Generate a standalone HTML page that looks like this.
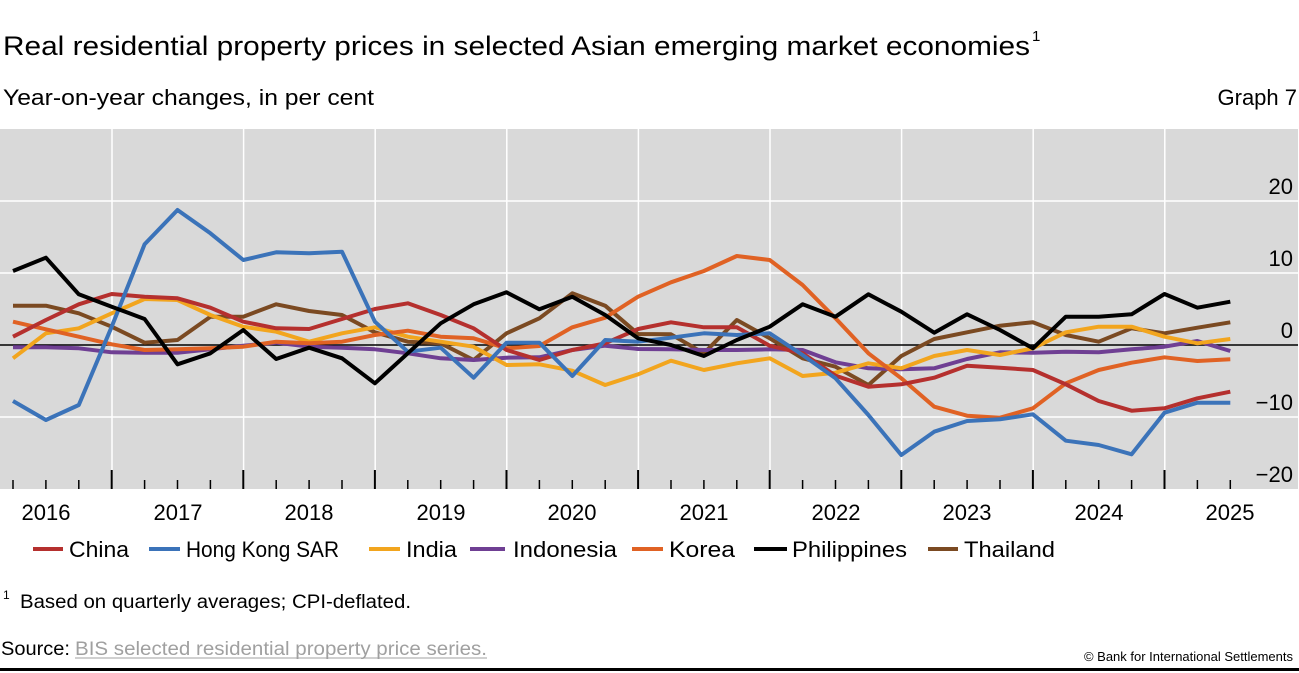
<!DOCTYPE html>
<html><head><meta charset="utf-8"><style>
html,body{margin:0;padding:0;background:#fff;}
svg{display:block;font-family:"Liberation Sans",sans-serif;}
</style></head><body>
<svg id="s" width="1299" height="673" xmlns="http://www.w3.org/2000/svg">
<text x="3" y="55" font-size="27" textLength="1027" lengthAdjust="spacingAndGlyphs">Real residential property prices in selected Asian emerging market economies</text>
<text x="1032" y="41" font-size="15">1</text>
<text x="3" y="105" font-size="22" textLength="371" lengthAdjust="spacingAndGlyphs">Year-on-year changes, in per cent</text>
<text x="1297" y="105" font-size="22" text-anchor="end">Graph 7</text>
<rect x="0" y="129" width="1298" height="360" fill="#d9d9d9"/>
<g stroke="#fff" stroke-width="1.5">
<line x1="0" y1="201" x2="1298" y2="201"/><line x1="0" y1="273" x2="1298" y2="273"/><line x1="0" y1="417" x2="1298" y2="417"/>
<line x1="112" y1="129" x2="112" y2="489"/><line x1="243.6" y1="129" x2="243.6" y2="489"/><line x1="375.2" y1="129" x2="375.2" y2="489"/><line x1="506.8" y1="129" x2="506.8" y2="489"/><line x1="638.4" y1="129" x2="638.4" y2="489"/><line x1="770" y1="129" x2="770" y2="489"/><line x1="901.6" y1="129" x2="901.6" y2="489"/><line x1="1033.2" y1="129" x2="1033.2" y2="489"/><line x1="1164.8" y1="129" x2="1164.8" y2="489"/>
</g>
<g id="ticks" stroke="#000"></g>
<line x1="0" y1="345" x2="1298" y2="345" stroke="#000" stroke-width="1.5"/>
<g id="lines" fill="none" stroke-width="4" stroke-linejoin="round"></g>
<g font-size="22" text-anchor="end">
<text x="1293" y="194">20</text><text x="1293" y="266">10</text><text x="1293" y="338">0</text><text x="1293" y="410">−10</text><text x="1293" y="482">−20</text>
</g>
<g font-size="22" text-anchor="middle">
<text x="46" y="520">2016</text><text x="178" y="520">2017</text><text x="309" y="520">2018</text><text x="441" y="520">2019</text><text x="572" y="520">2020</text><text x="704" y="520">2021</text><text x="836" y="520">2022</text><text x="967" y="520">2023</text><text x="1099" y="520">2024</text><text x="1230" y="520">2025</text>
</g>
<g stroke-width="4">
<line x1="33" y1="549" x2="63" y2="549" stroke="#b5302e"/>
<line x1="149" y1="549" x2="180" y2="549" stroke="#3b73b9"/>
<line x1="369" y1="549" x2="400" y2="549" stroke="#f2a51e"/>
<line x1="470" y1="549" x2="505" y2="549" stroke="#6f3f93"/>
<line x1="632" y1="549" x2="663" y2="549" stroke="#e06224"/>
<line x1="754" y1="549" x2="787" y2="549" stroke="#000"/>
<line x1="928" y1="549" x2="958" y2="549" stroke="#7b4a22"/>
</g>
<g font-size="22">
<text x="69" y="557" textLength="60" lengthAdjust="spacingAndGlyphs">China</text>
<text x="186" y="557" textLength="153" lengthAdjust="spacingAndGlyphs">Hong Kong SAR</text>
<text x="406" y="557" textLength="51" lengthAdjust="spacingAndGlyphs">India</text>
<text x="513" y="557" textLength="104" lengthAdjust="spacingAndGlyphs">Indonesia</text>
<text x="669" y="557" textLength="66" lengthAdjust="spacingAndGlyphs">Korea</text>
<text x="792" y="557" textLength="115" lengthAdjust="spacingAndGlyphs">Philippines</text>
<text x="964" y="557" textLength="91" lengthAdjust="spacingAndGlyphs">Thailand</text>
</g>
<text x="3" y="599" font-size="12">1</text>
<text x="20" y="608" font-size="19" textLength="391" lengthAdjust="spacingAndGlyphs">Based on quarterly averages; CPI-deflated.</text>
<text x="1" y="655" font-size="19" textLength="69" lengthAdjust="spacingAndGlyphs">Source:</text>
<text x="75" y="655" font-size="19" fill="#a0a0a0" textLength="412" lengthAdjust="spacingAndGlyphs">BIS selected residential property price series.</text>
<line x1="75" y1="658" x2="487" y2="658" stroke="#a0a0a0" stroke-width="1"/>
<text x="1293" y="661" font-size="13" text-anchor="end">© Bank for International Settlements</text>
<rect x="0" y="668" width="1299" height="3" fill="#000"/>
</svg>
<script>
var ns="http://www.w3.org/2000/svg";
function X(i){return 13+32.9*i;}
var t=document.getElementById("ticks");
for(var i=0;i<38;i++){var l=document.createElementNS(ns,"line");var maj=(i%4==3);
l.setAttribute("x1",X(i));l.setAttribute("x2",X(i));l.setAttribute("y1",maj?470:480);l.setAttribute("y2",489);l.setAttribute("stroke-width",maj?2:1.5);t.appendChild(l);}
var S=[
["#7b4a22",[557,557,580,620,668,660,590,590,553,573,585,637,665,670,720,640,595,520,557,642,643,700,600,655,715,740,795,708,657,637,617,607,645,665,625,640,623,607]],
["#6f3f93",[682,682,685,697,698,698,688,677,668,680,683,688,700,715,720,713,712,690,677,687,688,690,690,688,690,727,745,748,745,717,697,698,695,697,688,680,663,693]],
["#f2a51e",[715,640,625,580,537,540,585,620,635,665,640,622,650,665,680,735,733,752,795,763,722,750,730,715,768,758,730,745,708,690,705,685,637,620,620,650,670,657]],
["#e06224",[605,628,650,673,690,688,685,680,665,670,665,645,632,650,655,685,678,622,593,530,487,453,408,420,495,595,700,775,860,887,893,865,790,750,728,712,723,718]],
["#b5302e",[650,600,553,522,530,535,563,605,625,627,597,567,550,585,625,690,720,690,670,627,607,622,622,677,700,767,800,793,773,737,743,750,793,843,872,865,835,815]],
["#3b73b9",[843,900,855,620,373,270,340,420,397,400,395,605,695,683,773,668,668,768,660,665,653,640,645,640,705,775,885,1005,935,903,898,883,962,975,1003,878,848,848]],
["#000000",[453,413,523,560,597,733,700,630,717,683,715,790,700,610,553,517,568,530,585,655,675,708,660,620,553,590,523,575,638,583,630,685,590,590,583,522,563,545]]
];
var g=document.getElementById("lines");
S.forEach(function(s){var p=document.createElementNS(ns,"polyline");
p.setAttribute("points",s[1].map(function(v,i){return X(i).toFixed(1)+","+(120+v/3).toFixed(1);}).join(" "));
p.setAttribute("stroke",s[0]);g.appendChild(p);});
</script>
</body></html>
